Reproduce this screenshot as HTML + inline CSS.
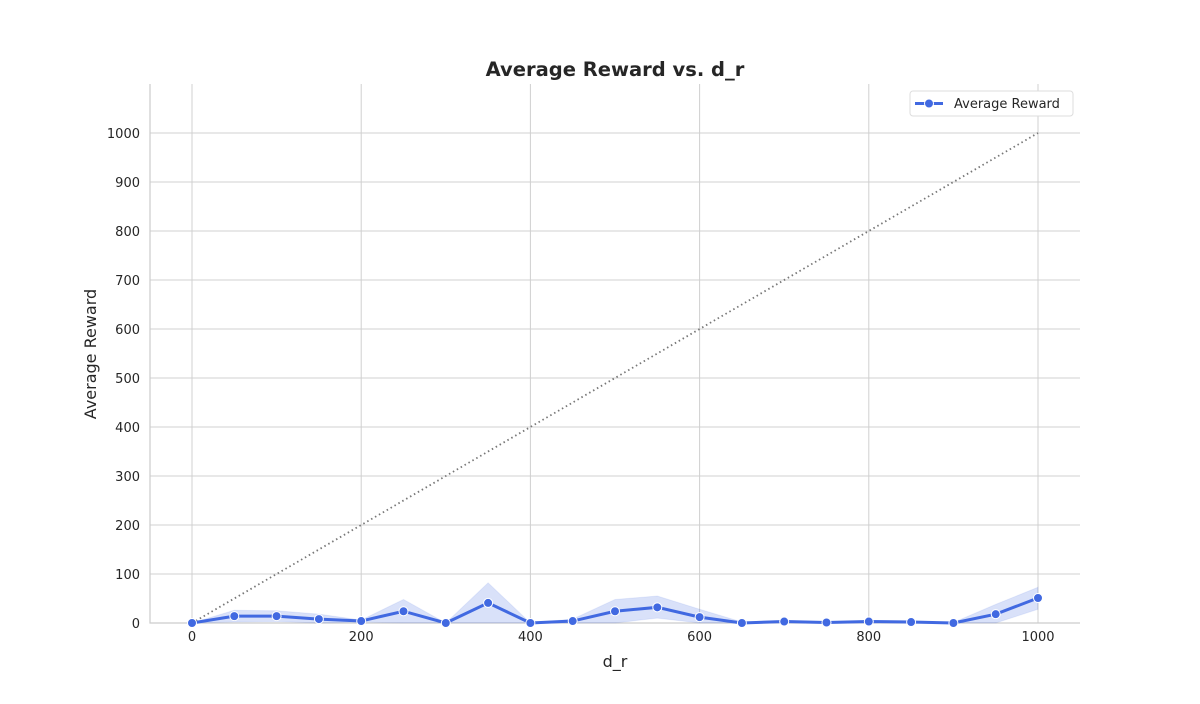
<!DOCTYPE html>
<html><head><meta charset="utf-8"><style>
body{margin:0;background:#fff;font-family:"DejaVu Sans","Liberation Sans",sans-serif}
</style></head><body>
<svg id="c" width="1200" height="700" xmlns="http://www.w3.org/2000/svg"></svg>
<script>
const xs=[0,50,100,150,200,250,300,350,400,450,500,550,600,650,700,750,800,850,900,950,1000];
const avg=[0,14,14,8,4,24,0,41,0,4,24,32,12,0,3,1,3,2,0,18,51];
const upper=[0,26,25,18,6,48,0,82,0,8,48,55,28,2,5,2,5,4,1,38,73];
const lower=[0,2,3,0,2,0,0,0,0,0,0,10,0,0,1,0,1,0,0,0,28];
const xTicks=[0,200,400,600,800,1000];
const yTicks=[0,100,200,300,400,500,600,700,800,900,1000];
const X=v=>192+v*0.846, Y=v=>623-v*0.49;
const svg=document.getElementById('c');
const NS='http://www.w3.org/2000/svg';
function mk(t,a,p){const e=document.createElementNS(NS,t);for(const k in a)e.setAttribute(k,a[k]);(p||svg).appendChild(e);return e;}
for(const t of xTicks){const l=mk('line',{x1:X(t),x2:X(t),y1:84,y2:623,stroke:'#d0d0d0'});


const tx=mk('text',{x:X(t),y:641,'text-anchor':'middle','font-size':13,fill:'#262626'});tx.textContent=t;

}
for(const t of yTicks){const l=mk('line',{x1:150,x2:1080,y1:Y(t),y2:Y(t),stroke:'#d0d0d0'});


const tx=mk('text',{x:140,y:Y(t)+5,'text-anchor':'end','font-size':13,fill:'#262626'});tx.textContent=t;

}
const ax=mk('path',{d:'M150 84V623H1080',fill:'none',stroke:'#ccc','stroke-width':1.2});


const diag=mk('line',{x1:X(0),y1:Y(0),x2:X(1000),y2:Y(1000),stroke:'#777','stroke-width':1.8,'stroke-dasharray':'1.5,3'});


let bd='M'+xs.map((x,i)=>X(x)+' '+Y(upper[i])).join('L');
for(let i=xs.length-1;i>=0;i--)bd+='L'+X(xs[i])+' '+Y(lower[i]);
const band=mk('path',{d:bd+'Z',fill:'#4169e1','fill-opacity':0.2,stroke:'#4169e1','stroke-opacity':0.1});


const line=mk('path',{d:'M'+xs.map((x,i)=>X(x)+' '+Y(avg[i])).join('L'),fill:'none',stroke:'#4169e1','stroke-width':3});


xs.forEach((x,i)=>{const c=mk('circle',{cx:X(x),cy:Y(avg[i]),r:4.5,fill:'#4169e1',stroke:'#fff','stroke-width':1});

});
const ti=mk('text',{x:615,y:76,'text-anchor':'middle','font-size':19.5,'font-weight':'bold',fill:'#262626'});ti.textContent='Average Reward vs. d_r';


const xl=mk('text',{x:615,y:667,'text-anchor':'middle','font-size':16,fill:'#262626'});xl.textContent='d_r';


const yl=mk('text',{x:96,y:354,'text-anchor':'middle','font-size':16,fill:'#262626',transform:'rotate(-90 96 354)'});yl.textContent='Average Reward';


const lg=mk('g',{});


mk('rect',{x:910,y:91,width:163,height:25,rx:3,fill:'#fff',stroke:'#ddd'},lg);
mk('line',{x1:915,x2:943,y1:103.5,y2:103.5,stroke:'#4169e1','stroke-width':3},lg);
mk('circle',{cx:929,cy:103.5,r:4.5,fill:'#4169e1',stroke:'#fff'},lg);
const lt=mk('text',{x:954,y:108,'font-size':13,fill:'#262626'},lg);lt.textContent='Average Reward';


</script>
</body></html>
